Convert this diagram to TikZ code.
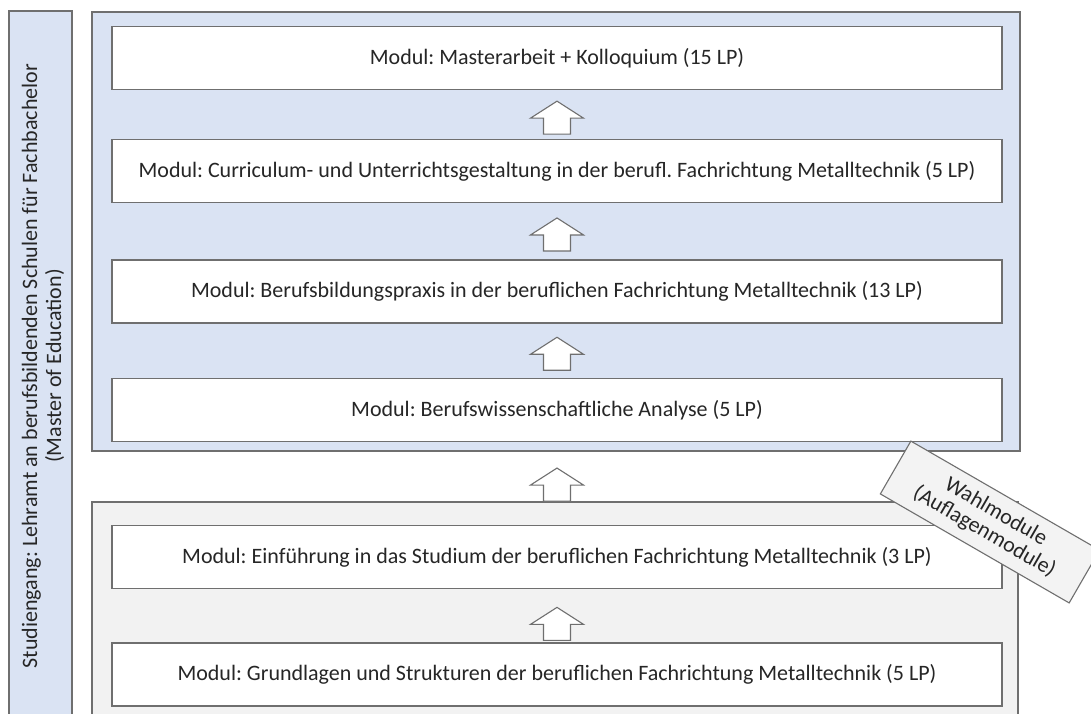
\documentclass[tikz,border=0pt]{standalone}
\usepackage{fontspec}
\setmainfont{Carlito}
\usetikzlibrary{positioning,calc}
\definecolor{modblue}{HTML}{DAE3F3}
\definecolor{modgray}{HTML}{F2F2F2}
\definecolor{modline}{HTML}{6F6F6F}
\definecolor{modtext}{HTML}{262626}
\frenchspacing

\tikzset{
  modul/.style={draw=modline, line width=1.3pt, fill=white, minimum width=890pt,
    minimum height=63pt, inner sep=0pt, text=modtext, font=\fontsize{22}{24}\selectfont},
  uparrow/.style={draw=modline, line width=1.1pt, fill=white, line join=miter},
  rahmen/.style={draw=modline, line width=1.3pt},
}

\begin{document}
\begin{tikzpicture}[x=1pt, y=-1pt]
 \clip (0,0) rectangle (1091,713);
 \fill[white] (0,0) rectangle (1091,713);
 \filldraw[rahmen, fill=modblue] (92,12) rectangle (1020,451);
 \filldraw[rahmen, fill=modgray] (92,502) rectangle (1018,730);
 \filldraw[rahmen, fill=modblue] (9,11) rectangle (72,730);

 \node[rotate=90, align=center, text=modtext, font=\fontsize{22}{24}\selectfont] (studiengang) at (43,366)
   {Studiengang: Lehramt an berufsbildenden Schulen für Fachbachelor\\(Master of Education)};

 \node[modul] (m1) at (557,58) {Modul: Masterarbeit + Kolloquium (15 LP)};
 \node[modul, below=49pt of m1] (m2) {Modul: Curriculum- und Unterrichtsgestaltung in der berufl. Fachrichtung Metalltechnik (5 LP)};
 \node[modul, below=56pt of m2] (m3) {Modul: Berufsbildungspraxis in der beruflichen Fachrichtung Metalltechnik (13 LP)};
 \node[modul, below=54pt of m3] (m4) {Modul: Berufswissenschaftliche Analyse (5 LP)};
 \node[modul, below=83pt of m4] (m5) {Modul: Einführung in das Studium der beruflichen Fachrichtung Metalltechnik (3 LP)};
 \node[modul, below=53pt of m5] (m6) {Modul: Grundlagen und Strukturen der beruflichen Fachrichtung Metalltechnik (5 LP)};

 \coordinate (p1) at ($(m1.south)!0.5!(m2.north)+(0,3)$);
 \coordinate (p2) at ($(m2.south)!0.5!(m3.north)+(0,3)$);
 \coordinate (p3) at ($(m3.south)!0.5!(m4.north)+(0,3)$);
 \coordinate (p4) at ($(m4.south)!0.5!(m5.north)+(0,1)$);
 \coordinate (p5) at ($(m5.south)!0.5!(m6.north)+(0,8)$);
 \foreach \p in {p1,p2,p3,p4,p5}
   \filldraw[uparrow] (\p) ++(-13.5,16.5) -- ++(27,0) -- ++(0,-16) -- ++(13,0)
     -- ++(-26.5,-17) -- ++(-26.5,17) -- ++(13,0) -- cycle;

 \node[draw=modline, line width=1.1pt, fill=modgray!90!white, rotate=-30, minimum width=218pt,
   minimum height=61pt, inner sep=2pt, align=center, text=modtext, font=\fontsize{22}{23}\selectfont] (wahl) at (990,522)
   {Wahlmodule\\(Auflagenmodule)};
\end{tikzpicture}
\end{document}
